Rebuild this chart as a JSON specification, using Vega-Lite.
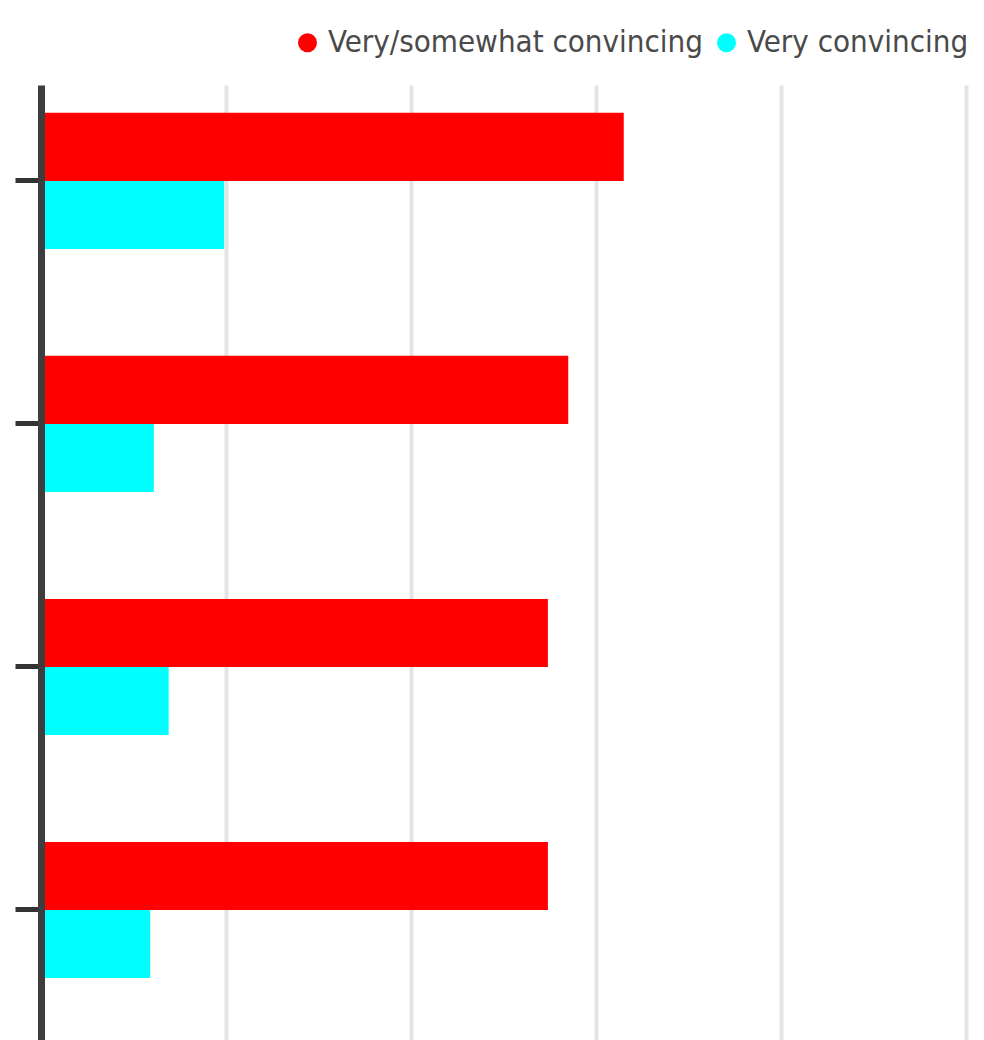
{
  "$schema": "https://vega.github.io/schema/vega-lite/v6.json",
  "autosize": {"type": "none"},
  "padding": {"left": 41, "top": 85, "right": 18, "bottom": 0},
  "width": 925,
  "height": 955,
  "background": "#ffffff",
  "data": {
    "values": [
      {"item": "Item 1", "series": "Very/somewhat convincing", "value": 31.5},
      {"item": "Item 1", "series": "Very convincing", "value": 9.9},
      {"item": "Item 2", "series": "Very/somewhat convincing", "value": 28.5},
      {"item": "Item 2", "series": "Very convincing", "value": 6.1},
      {"item": "Item 3", "series": "Very/somewhat convincing", "value": 27.4},
      {"item": "Item 3", "series": "Very convincing", "value": 6.9},
      {"item": "Item 4", "series": "Very/somewhat convincing", "value": 27.4},
      {"item": "Item 4", "series": "Very convincing", "value": 5.9}
    ]
  },
  "mark": {"type": "bar"},
  "encoding": {
    "y": {
      "field": "item",
      "type": "nominal",
      "sort": null,
      "scale": {"paddingInner": 0.44, "paddingOuter": 0.185, "align": 0.31},
      "axis": {
        "title": null,
        "labels": false,
        "tickSize": 26,
        "tickWidth": 5,
        "tickColor": "#333333",
        "domainWidth": 7,
        "domainColor": "#3d3d3d",
        "grid": false,
        "zindex": 1
      }
    },
    "yOffset": {
      "field": "series",
      "type": "nominal",
      "sort": ["Very/somewhat convincing", "Very convincing"],
      "scale": {"paddingInner": 0, "paddingOuter": 0}
    },
    "x": {
      "field": "value",
      "type": "quantitative",
      "scale": {"domain": [0, 50], "nice": false},
      "axis": {
        "title": null,
        "labels": false,
        "ticks": false,
        "domain": false,
        "grid": true,
        "gridColor": "#e4e4e4",
        "gridWidth": 4,
        "values": [10, 20, 30, 40, 50],
        "zindex": 0
      }
    },
    "color": {
      "field": "series",
      "type": "nominal",
      "sort": ["Very/somewhat convincing", "Very convincing"],
      "scale": {"domain": ["Very/somewhat convincing", "Very convincing"], "range": ["#ff0000", "#00ffff"]},
      "legend": {
        "title": null,
        "orient": "none",
        "direction": "horizontal",
        "legendX": 251,
        "legendY": -58,
        "symbolType": "circle",
        "symbolSize": 360,
        "symbolStrokeWidth": 0,
        "labelFont": "DejaVu Sans Condensed, sans-serif",
        "labelFontSize": 31,
        "labelColor": "#4a4a4a",
        "labelOffset": 5,
        "columnPadding": 8,
        "labelLimit": 600,
        "padding": 0
      }
    }
  },
  "config": {
    "view": {"stroke": null, "fill": "#ffffff"}
  }
}
